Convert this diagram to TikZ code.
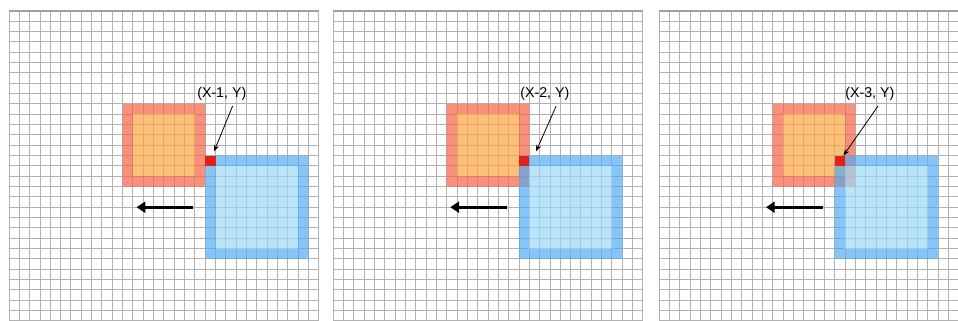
\documentclass[tikz,border=0pt]{standalone}
\usepackage{fontspec}
\setmainfont{Liberation Sans}
\usetikzlibrary{arrows.meta}

\definecolor{gridgray}{RGB}{178,178,178}
\definecolor{topgray}{RGB}{160,160,160}
\definecolor{salmonring}{RGB}{245,98,69}
\definecolor{orangefill}{RGB}{252,165,62}
\definecolor{bluering}{RGB}{80,170,243}
\definecolor{bluefill}{RGB}{155,216,248}
\definecolor{pixelred}{RGB}{225,32,22}

\begin{document}
\begin{tikzpicture}[x=0.25cm, y=-0.25cm,
    gridline/.style={draw=gridgray, line width=0.65pt},
    topline/.style={draw=topgray, line width=1.4pt},
    ringO/.style={fill=salmonring, fill opacity=0.7, even odd rule},
    innerO/.style={fill=orangefill, fill opacity=0.7},
    ringB/.style={fill=bluering, fill opacity=0.68, even odd rule},
    innerB/.style={fill=bluefill, fill opacity=0.7},
    pixel/.style={fill=pixelred},
    lbl/.style={font=\fontsize{9.8}{11}\selectfont, inner sep=1pt},
    pointer/.style={-{Stealth[length=4.5pt,width=3.5pt]}, line width=0.55pt},
    move/.style={-{Triangle[length=6pt,width=7.5pt]}, line width=2pt}]

  \useasboundingbox (0,0) rectangle (92.74,30.98);
  \clip (0,0) rectangle (92.74,30.98);

  % one panel per step, the blue square moves one cell to the left
  \foreach \i/\ox/\bx/\lx/\px/\tx/\ty in
      {1/0.87/19/20.6/21.65/19.85/13.6,
       2/32.24/18/20.5/21.6/19.65/13.6,
       3/63.80/17/20.4/21.2/17.85/14.0} {
    \begin{scope}[shift={(\ox,1.06)}]
      % grid
      \foreach \k in {0,...,30} {
        \draw[gridline] (\k,0) -- (\k,30);
        \draw[gridline] (0,\k) -- (30,\k);
      }
      \draw[topline] (0,0) -- (30,0);

      % orange square
      \fill[ringO] (11,9) rectangle (19,17) (12,10) rectangle (18,16);
      \fill[innerO] (12,10) rectangle (18,16);

      % blue square
      \fill[ringB] (\bx,14) rectangle (\bx+10,24) (\bx+1,15) rectangle (\bx+9,23);
      \fill[innerB] (\bx+1,15) rectangle (\bx+9,23);

      % collision pixel
      \fill[pixel] (\bx,14) rectangle (\bx+1,15);

      % label and pointer
      \node[lbl] (lbl\i) at (\lx,8) {(X-\i, Y)};
      \coordinate (from\i) at (\px,9.2);
      \coordinate (tip\i) at (\tx,\ty);
      \draw[pointer] (from\i) -- (tip\i);

      % direction of movement
      \coordinate (mvA\i) at (\bx-1.15,19);
      \coordinate (mvB\i) at (\bx-6.65,19);
      \draw[move] (mvA\i) -- (mvB\i);
    \end{scope}
  }
\end{tikzpicture}
\end{document}
